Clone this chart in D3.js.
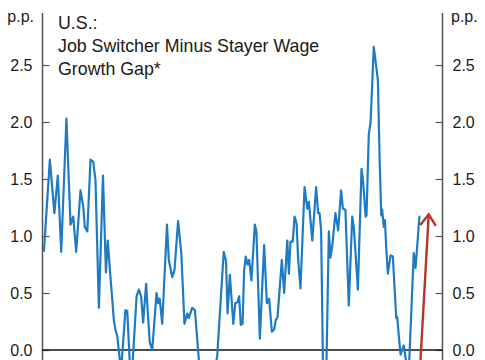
<!DOCTYPE html>
<html>
<head>
<meta charset="utf-8">
<script src="https://cdn.jsdelivr.net/npm/d3@7"></script>
<style>
  html, body { margin: 0; padding: 0; background: #ffffff; }
  svg { display: block; }
  text { font-family: "Liberation Sans", Arial, Helvetica, sans-serif; fill: #1a1a1a; }
</style>
</head>
<body>
<svg id="chart" width="485" height="360"></svg>
<script>
// ---- data ----
const dates = [
  2008.02, 2008.28, 2008.48, 2008.63, 2008.78, 2009.01, 2009.19, 2009.31, 2009.44, 2009.63,
  2009.75, 2009.82, 2009.93, 2010.07, 2010.19, 2010.29, 2010.44, 2010.62, 2010.75, 2010.83,
  2010.95, 2011.03, 2011.10, 2011.17, 2011.25, 2011.36, 2011.44, 2011.61, 2011.69, 2011.81,
  2011.90, 2012.10, 2012.20, 2012.30, 2012.39, 2012.52, 2012.59, 2012.68, 2012.79, 2012.98,
  2013.05, 2013.12, 2013.23, 2013.44, 2013.52, 2013.67, 2013.77, 2013.93, 2014.07, 2014.21,
  2014.33, 2014.40, 2014.55, 2014.67, 2014.85, 2015.05, 2015.36, 2015.65, 2015.94, 2016.04,
  2016.11, 2016.21, 2016.36, 2016.45, 2016.55, 2016.62, 2016.69, 2016.77, 2016.84, 2016.91,
  2016.99, 2017.06, 2017.16, 2017.31, 2017.38, 2017.53, 2017.72, 2017.84, 2017.94, 2018.06,
  2018.16, 2018.23, 2018.31, 2018.50, 2018.60, 2018.74, 2018.81, 2018.88, 2018.98, 2019.06,
  2019.15, 2019.22, 2019.32, 2019.50, 2019.62, 2019.69, 2019.84, 2020.01, 2020.10, 2020.16,
  2020.23, 2020.33, 2020.44, 2020.57, 2020.64, 2020.72, 2020.86, 2020.98, 2021.11, 2021.19,
  2021.30, 2021.45, 2021.60, 2021.67, 2021.85, 2022.01, 2022.08, 2022.19, 2022.23, 2022.33,
  2022.41, 2022.55, 2022.63, 2022.73, 2022.81, 2022.88, 2022.92, 2022.99, 2023.04, 2023.10,
  2023.17, 2023.29, 2023.39, 2023.54, 2023.58, 2023.65, 2023.73, 2023.87, 2023.95, 2024.08,
  2024.31, 2024.39, 2024.56
];
const wageGap = [
  0.87, 1.67, 1.20, 1.53, 0.86, 2.03, 1.10, 1.17, 0.86, 1.40,
  1.26, 1.08, 1.04, 1.67, 1.65, 1.49, 0.37, 1.53, 0.68, 0.96,
  0.64, 0.44, 0.26, 0.18, 0.12, -0.08, -0.12, 0.35, 0.34, -0.15,
  -0.20, 0.47, 0.53, 0.47, 0.24, 0.58, 0.35, 0.07, 0.00, 0.50,
  0.41, 0.45, 0.23, 1.10, 0.79, 0.64, 0.70, 1.13, 0.85, 0.23,
  0.32, 0.28, 0.37, 0.35, -0.10, -0.35, -0.35, -0.06, 0.86, 0.78,
  0.32, 0.66, 0.23, 0.41, 0.42, 0.47, 0.22, 0.23, 0.70, 0.82,
  0.75, 0.79, 0.61, 1.10, 1.04, 0.10, 0.92, 0.41, 0.45, 0.16,
  0.18, 0.26, 0.29, 0.79, 0.50, 0.96, 0.67, 0.95, 0.95, 1.17,
  1.11, 0.79, 0.54, 1.43, 1.24, 1.30, 0.96, 1.43, 1.20, 1.20,
  1.05, -0.40, -0.40, 1.04, 0.81, 0.91, 1.20, 1.05, 1.40, 1.24,
  1.23, 0.39, 1.17, 1.08, 0.53, 1.59, 1.48, 1.17, 1.18, 1.89,
  2.00, 2.66, 2.53, 2.37, 1.65, 1.18, 1.23, 1.08, 1.14, 0.89,
  0.67, 0.83, 0.82, 0.28, 0.29, 0.13, -0.04, 0.04, -0.07, -0.25,
  0.85, 0.72, 1.17
];
// projected direction arrow (start, end) in date / value units
const arrowDates = [2024.59, 2024.97];
const arrowValues = [-0.15, 1.19];
const yTicks = [0.0, 0.5, 1.0, 1.5, 2.0, 2.5];
const unitLabel = "p.p.";
const titleLines = ["U.S.:", "Job Switcher Minus Stayer Wage", "Growth Gap*"];

// ---- layout ----
const svg = d3.select("#chart");
const left = 42.5, right = 442.5, axisTop = 13;
const x = d3.scaleLinear().domain([2007.956, 2025.577]).range([left, right]);
const y = d3.scaleLinear().domain([0, 2.5]).range([350, 65]);

const fmt = d3.format(".1f");
const axisColor = "#555555";

// left axis
const gl = svg.append("g").attr("transform", `translate(${left},0)`)
  .call(d3.axisLeft(y).tickValues(yTicks).tickFormat(fmt).tickSizeInner(-7).tickSizeOuter(0).tickPadding(10));
// right axis
const gr = svg.append("g").attr("transform", `translate(${right},0)`)
  .call(d3.axisRight(y).tickValues(yTicks).tickFormat(fmt).tickSizeInner(-7).tickSizeOuter(0).tickPadding(10));
[gl, gr].forEach(g => {
  g.select(".domain").remove();
  g.selectAll(".tick line").attr("stroke", axisColor).attr("stroke-width", 1.2);
  g.selectAll(".tick text").style("font-size", "16px").attr("fill", "#1a1a1a")
    .style("font-family", '"Liberation Sans", Arial, sans-serif');
});

// axis vertical lines
[left, right].forEach(px => {
  svg.append("line").attr("x1", px).attr("x2", px).attr("y1", axisTop).attr("y2", 360)
    .attr("stroke", axisColor).attr("stroke-width", 1.5);
});

// zero line
svg.append("line").attr("x1", left).attr("x2", right).attr("y1", y(0)).attr("y2", y(0))
  .attr("stroke", "#111111").attr("stroke-width", 1.5);

// unit labels
svg.append("text").attr("x", 34).attr("y", 22).attr("text-anchor", "end")
  .style("font-size", "16px").text(unitLabel);
svg.append("text").attr("x", 451).attr("y", 22).attr("text-anchor", "start")
  .style("font-size", "16px").text(unitLabel);

// title
svg.append("g").selectAll("text").data(titleLines).join("text")
  .attr("x", 58).attr("y", (d, i) => 29 + i * 23)
  .style("font-size", "17.8px").text(d => d);

// series
const series = dates.map((d, i) => [d, wageGap[i]]);
svg.append("path").datum(series)
  .attr("fill", "none").attr("stroke", "#1f7bc1").attr("stroke-width", 2.2)
  .attr("stroke-linejoin", "round").attr("stroke-linecap", "round")
  .attr("d", d3.line().x(d => x(d[0])).y(d => y(d[1])));

// arrow
const ax0 = x(arrowDates[0]), ay0 = y(arrowValues[0]);
const ax1 = x(arrowDates[1]), ay1 = y(arrowValues[1]);
const red = "#b5352c";
svg.append("line").attr("x1", ax0).attr("y1", ay0).attr("x2", ax1).attr("y2", ay1)
  .attr("stroke", red).attr("stroke-width", 2.4);
const ang = Math.atan2(ay0 - ay1, ax0 - ax1);
const hl = 13.5, ha = 35 * Math.PI / 180;
const p1 = [ax1 + hl * Math.cos(ang + ha), ay1 + hl * Math.sin(ang + ha)];
const p2 = [ax1 + hl * Math.cos(ang - ha), ay1 + hl * Math.sin(ang - ha)];
svg.append("path")
  .attr("d", `M${p1[0]},${p1[1]}L${ax1},${ay1}L${p2[0]},${p2[1]}`)
  .attr("fill", "none").attr("stroke", red).attr("stroke-width", 2.4)
  .attr("stroke-linejoin", "miter");
</script>
</body>
</html>
